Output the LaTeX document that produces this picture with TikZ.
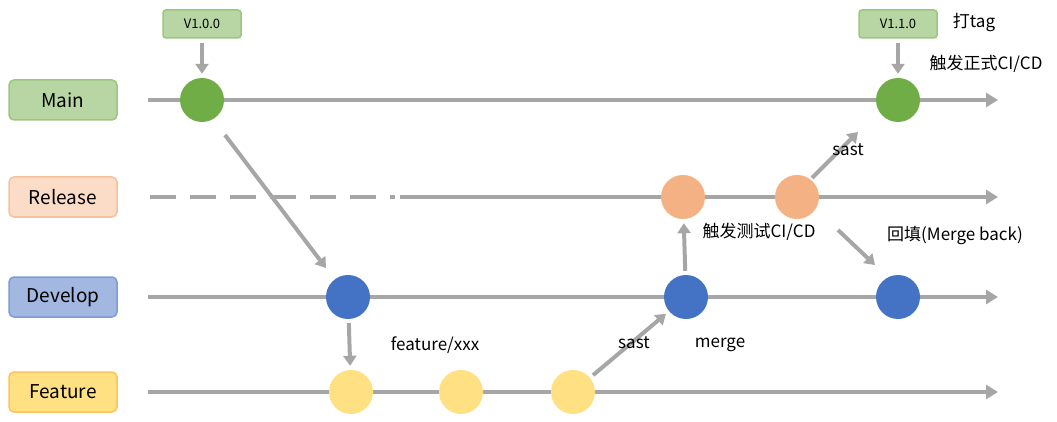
\documentclass[tikz,border=0pt]{standalone}
\usepackage{fontspec}
\setmainfont{Noto Sans CJK SC}
\usetikzlibrary{arrows.meta}
\definecolor{lgray}{HTML}{A6A6A6}
\definecolor{mainc}{HTML}{70AD47}
\definecolor{relc}{HTML}{F4B183}
\definecolor{devc}{HTML}{4472C4}
\definecolor{featc}{HTML}{FFE082}
\begin{document}
\begin{tikzpicture}[x=1pt, y=-1pt,
  lane/.style = {draw, rounded corners=5pt, line width=1.5pt, minimum width=108pt, minimum height=40pt, font=\fontsize{19}{22}\selectfont},
  tag/.style = {draw=mainc!70, fill=mainc!50, rounded corners=3pt, line width=1.5pt, minimum width=78pt, minimum height=28pt, font=\fontsize{13}{15}\selectfont},
  dot/.style = {circle, minimum size=44pt, inner sep=0pt},
  flow/.style = {draw=lgray, line width=4pt, -{Triangle[length=12pt, width=14pt]}},
  hop/.style = {draw=lgray, line width=4pt, shorten <=4pt, shorten >=4pt, -{Triangle[length=10pt, width=13pt]}},
  txt/.style = {font=\fontsize{17}{20}\selectfont}]
\useasboundingbox (0,0) rectangle (1057,422);

\node[lane, draw=mainc!70, fill=mainc!50] (Main) at (63,100) {Main};
\node[lane, draw=relc!80, fill=relc!45] (Release) at (63,197) {Release};
\node[lane, draw=devc!70, fill=devc!50] (Develop) at (63,297) {Develop};
\node[lane, draw=featc!70!orange, fill=featc] (Feature) at (63,392) {Feature};

% lines
\coordinate (m0) at (148,100); \coordinate (m1) at (998,100);
\coordinate (r0) at (150,197); \coordinate (r1) at (395,197);
\coordinate (r2) at (400,197); \coordinate (r3) at (998,197);
\coordinate (d0) at (148,297); \coordinate (d1) at (998,297);
\coordinate (f0) at (148,392); \coordinate (f1) at (998,392);
\draw[flow] (m0) -- (m1);
\draw[draw=lgray, line width=4pt, dash pattern=on 26pt off 14pt] (r0) -- (r1);
\draw[flow] (r2) -- (r3);
\draw[flow] (d0) -- (d1);
\draw[flow] (f0) -- (f1);

\node[dot, fill=mainc] (m1a) at (202,100) {};
\node[dot, fill=mainc] (m2a) at (898,100) {};
\node[dot, fill=relc] (r1a) at (683,197) {};
\node[dot, fill=relc] (r2a) at (797,197) {};
\node[dot, fill=devc] (d1a) at (348,297) {};
\node[dot, fill=devc] (d2a) at (686,297) {};
\node[dot, fill=devc] (d3a) at (898,297) {};
\node[dot, fill=featc] (f1a) at (351,392) {};
\node[dot, fill=featc] (f2a) at (461,392) {};
\node[dot, fill=featc] (f3a) at (573,392) {};

\node[tag] (v100) at (202,24) {V1.0.0};
\node[tag] (v110) at (898,24) {V1.1.0};

\coordinate (a0) at (225,135); \coordinate (a1) at (326,268);
\coordinate (b0) at (812,178); \coordinate (b1) at (858,132);
\coordinate (c0) at (838,230); \coordinate (c1) at (875,265);
\draw[hop] (v100) -- (m1a);
\draw[hop] (v110) -- (m2a);
\draw[hop, shorten <=0pt, shorten >=0pt] (a0) -- (a1);
\draw[hop] (d1a) -- (f1a);
\draw[hop] (f3a) -- (d2a);
\draw[hop] (d2a) -- (r1a);
\draw[hop, shorten <=0pt, shorten >=0pt] (b0) -- (b1);
\draw[hop, shorten <=0pt, shorten >=0pt] (c0) -- (c1);

\node[txt] (tagt) at (974,22) {打tag};
\node[txt] (cd1) at (986,64) {触发正式CI/CD};
\node[txt] (cd2) at (759,232) {触发测试CI/CD};
\node[txt] (back) at (955,235) {回填(Merge back)};
\node[txt] (feat) at (435,345) {feature/xxx};
\node[txt] (merge) at (720,345) {merge};
\node[txt] (sast1) at (634,343) {sast};
\node[txt] (sast2) at (848,150) {sast};
\end{tikzpicture}
\end{document}
